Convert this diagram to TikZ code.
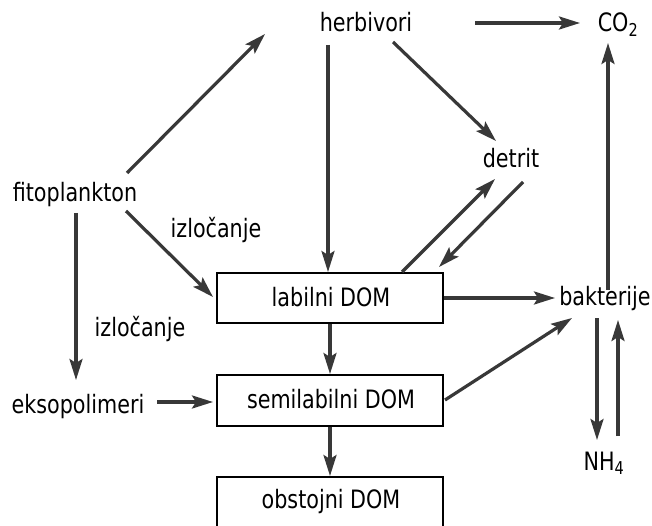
\documentclass[tikz,border=0pt]{standalone}
\usepackage{fontspec}
\setmainfont{DejaVu Sans Condensed}
\usetikzlibrary{arrows.meta}
\definecolor{arr}{HTML}{383838}
\newcommand\tallt[1]{\scalebox{1}[1.1]{#1}}
\tikzset{
  lbl/.style={anchor=base,inner sep=0pt,font=\fontsize{23}{27}\selectfont},
  dombox/.style={draw=black,line width=1.4pt,minimum width=226pt,inner sep=0pt},
  flow/.style={draw=arr,line width=3.2pt,-{Stealth[length=21pt,width=13pt,inset=4pt]}},
}
\begin{document}
\begin{tikzpicture}[x=1pt,y=-1pt]
\clip (0,0) rectangle (652,526);
\fill[white] (0,0) rectangle (652,526);
% boxes
\node[dombox,minimum height=50pt] (lab) at (330,298) {};
\node[dombox,minimum height=51pt] (semi) at (330,400.5) {};
\node[dombox,minimum height=70pt] (obs) at (330,512) {};
% texts
\node[lbl] (labt) at (331,306) {\tallt{labilni DOM}};
\node[lbl] (semit) at (331,408) {\tallt{semilabilni DOM}};
\node[lbl] (obst) at (331,508) {\tallt{obstojni DOM}};
\node[lbl] (herb) at (366,32) {\tallt{herbivori}};
\node[lbl] (co2) at (618,32) {\tallt{CO\textsubscript{2}}};
\node[lbl] (det) at (511,168) {\tallt{detrit}};
\node[lbl] (fito) at (75,202) {\tallt{fitoplankton}};
\node[lbl] (izl1) at (216,238) {\tallt{izločanje}};
\node[lbl] (izl2) at (140,336) {\tallt{izločanje}};
\node[lbl] (eks) at (78,413) {\tallt{eksopolimeri}};
\node[lbl] (bak) at (605,305) {\tallt{bakterije}};
\node[lbl] (nh4) at (604,470) {\tallt{NH\textsubscript{4}}};
% free-end coordinates
\coordinate (herbE) at (475,23);
\coordinate (co2W) at (580,23);
\coordinate (herbSE) at (393,42);
\coordinate (detNW) at (496,141);
\coordinate (herbS) at (328,45);
\coordinate (labN) at (328,272);
\coordinate (fitoNE) at (127,173);
\coordinate (upEnd) at (265,34);
\coordinate (fitoSE) at (126,211);
\coordinate (labW) at (213,297);
\coordinate (fitoS) at (76,213);
\coordinate (eksN) at (76,380);
\coordinate (eksE) at (157,402);
\coordinate (semiW) at (213,402);
\coordinate (labS) at (330,324);
\coordinate (semiN) at (330,374);
\coordinate (semiS) at (330,427);
\coordinate (obsN) at (330,476);
\coordinate (labNE) at (402,272);
\coordinate (detSW) at (495,179);
\coordinate (detS) at (523,182);
\coordinate (labNE2) at (439,267);
\coordinate (labE) at (444,298);
\coordinate (bakW) at (555,298);
\coordinate (semiE) at (445,400);
\coordinate (bakSW) at (572,318);
\coordinate (bakN) at (608,290);
\coordinate (co2S) at (608,43);
\coordinate (bakS) at (597,318);
\coordinate (nhN) at (597,440);
\coordinate (nhN2) at (618,436);
\coordinate (bakS2) at (618,320);
% arrows
\draw[flow] (herbE) -- (co2W);
\draw[flow] (herbSE) -- (detNW);
\draw[flow] (herbS) -- (labN);
\draw[flow] (fitoNE) -- (upEnd);
\draw[flow] (fitoSE) -- (labW);
\draw[flow] (fitoS) -- (eksN);
\draw[flow] (eksE) -- (semiW);
\draw[flow] (labS) -- (semiN);
\draw[flow] (semiS) -- (obsN);
\draw[flow] (labNE) -- (detSW);
\draw[flow] (detS) -- (labNE2);
\draw[flow] (labE) -- (bakW);
\draw[flow] (semiE) -- (bakSW);
\draw[flow] (bakN) -- (co2S);
\draw[flow] (bakS) -- (nhN);
\draw[flow] (nhN2) -- (bakS2);
\end{tikzpicture}
\end{document}
